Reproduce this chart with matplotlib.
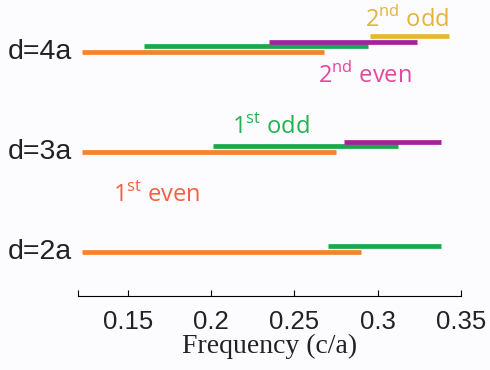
#!/usr/bin/env python3
"""Band ranges of even/odd modes versus waveguide width d."""
import matplotlib
matplotlib.use("Agg")
import matplotlib.pyplot as plt

# rows (d = 2a, 3a, 4a)
rows = [2, 3, 4]
row_labels = ["d=2a", "d=3a", "d=4a"]

# frequency ranges (c/a) per mode, one (start, end) per row, None = absent
first_even = [(0.1228, 0.290), (0.1228, 0.275), (0.1228, 0.268)]
first_odd = [(0.270, 0.338), (0.2014, 0.312), (0.1598, 0.294)]
second_even = [None, (0.2798, 0.338), (0.2348, 0.3238)]
second_odd = [None, None, (0.2954, 0.343)]

mode_names = ["1$^{\\mathregular{st}}$ even", "1$^{\\mathregular{st}}$ odd",
              "2$^{\\mathregular{nd}}$ even", "2$^{\\mathregular{nd}}$ odd"]
label_x = [0.1412, 0.2126, 0.2642, 0.2924]
label_y = [2.507, 3.187, 3.687, 4.247]

bar_colors = ["#f4822e", "#17a94b", "#a1239c", "#e8b732"]
text_colors = ["#f2603f", "#22b24e", "#e2479b", "#e2b43a"]
offsets = [0.0, 0.06, 0.10, 0.16]

fig = plt.figure(figsize=(4.9, 3.7), dpi=100, facecolor="#fcfcfe")
ax = fig.add_axes([0.1586, 0.2, 0.941 - 0.1586, 0.8])
ax.set_facecolor("#fcfcfe")

for series, col, off in zip([first_even, first_odd, second_even, second_odd],
                            bar_colors, offsets):
    for r, rng in zip(rows, series):
        if rng is None:
            continue
        ax.plot([rng[0], rng[1]], [r + off, r + off], color=col, lw=3.4,
                solid_capstyle="butt")

for name, x, y, col in zip(mode_names, label_x, label_y, text_colors):
    ax.text(x, y, name, color=col, fontsize=17, family="Open Sans",
            va="baseline", ha="left")

for r, lab in zip(rows, row_labels):
    ax.text(-0.015, r, lab, transform=ax.get_yaxis_transform(), ha="right",
            va="center", fontsize=20.5, family="Liberation Sans", color="#222222")

ax.set_xlim(0.12, 0.35)
ax.set_ylim(1.557, 4.517)
ax.set_xticks([0.12, 0.15, 0.2, 0.25, 0.3, 0.35])
ax.set_xticklabels(["", "0.15", "0.2", "0.25", "0.3", "0.35"],
                   family="Liberation Sans", fontsize=18.5, color="#222222")
ax.tick_params(axis="x", direction="in", length=4, width=0.8, pad=10)
ax.set_yticks([])
for s in ["top", "left", "right"]:
    ax.spines[s].set_visible(False)
ax.spines["bottom"].set_linewidth(0.8)
ax.set_xlabel("Frequency (c/a)", family="Liberation Serif", fontsize=20,
              labelpad=0, color="#222222")

fig.savefig("out.png", dpi=100, facecolor=fig.get_facecolor())
